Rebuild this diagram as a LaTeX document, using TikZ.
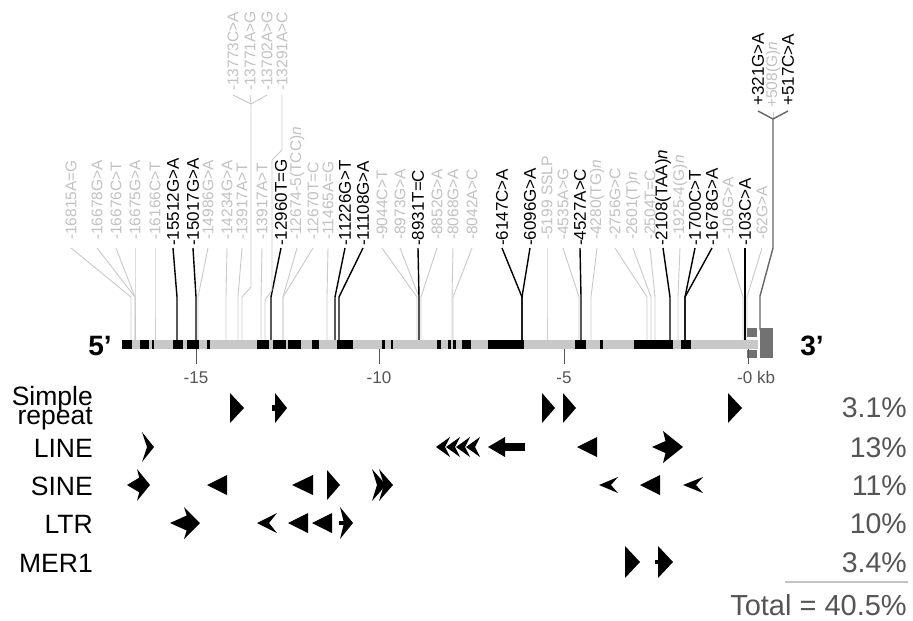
\documentclass[tikz,border=0pt]{standalone}
\usepackage{fontspec}
\setmainfont{Liberation Sans}
\definecolor{lgray}{HTML}{C2C2C2}
\definecolor{lcon}{HTML}{CACACA}
\definecolor{dgray}{HTML}{555555}
\definecolor{boxg}{HTML}{727272}
\definecolor{barg}{HTML}{C8C8C8}
\definecolor{forkg}{HTML}{666666}
\newcommand\snp[6]{\node[#5lab] (#1) at (#2,#3) {#6};
  \draw[#5con] (#1.west |- 0,248) -- (#4,297) -- (#4,340);}
\newcommand\rpR[4]{\fill[rep] (#1,{#2-#4}) -- ({#1+#3},#2) -- (#1,{#2+#4}) -- cycle;}
\newcommand\rpL[4]{\fill[rep] ({#1+#3},{#2-#4}) -- (#1,#2) -- ({#1+#3},{#2+#4}) -- cycle;}
\newcommand\rpRC[5]{\fill[rep] (#1,{#2-#4}) -- ({#1+#3},#2) -- (#1,{#2+#4}) -- ({#1+#5},#2) -- cycle;}
\newcommand\rpLC[5]{\fill[rep] ({#1+#3},{#2-#4}) -- (#1,#2) -- ({#1+#3},{#2+#4}) -- ({#1+#3-#5},#2) -- cycle;}
\begin{document}
\begin{tikzpicture}[x=1pt,y=-1pt,
  glab/.style={rotate=90,anchor=west,inner sep=0pt,text=lgray,font=\fontsize{15.5}{15.5}\selectfont},
  blab/.style={rotate=90,anchor=west,inner sep=0pt,text=black,font=\fontsize{17}{17}\selectfont},
  gcon/.style={draw=lcon,line width=0.9pt},
  bcon/.style={draw=black,line width=1.4pt},
  fcon/.style={draw=forkg,line width=1.4pt},
  rep/.style={fill=black},
  rowlab/.style={anchor=base east,inner sep=0pt,font=\fontsize{26.5}{26.5}\selectfont},
  pct/.style={anchor=base east,inner sep=0pt,text depth=0pt,text=dgray,font=\fontsize{28.5}{28.5}\selectfont},
  tick/.style={draw=dgray,line width=1pt},
  ticklab/.style={anchor=base,inner sep=0pt,text=dgray,font=\fontsize{17}{17}\selectfont},
  end/.style={inner sep=0pt,font=\fontsize{28}{28}\selectfont\bfseries}]
\useasboundingbox[fill=white] (0,0) rectangle (913,621);

% ---- lower row of variant labels with connectors
\snp{g1}{71}{240}{131}{g}{-16815A=G}
\snp{g2}{97}{240}{135}{g}{-16678G>A}
\snp{g3}{116}{240}{135}{g}{-16676C>T}
\snp{g4}{135}{240}{135}{g}{-16675G>A}
\snp{g5}{155}{240}{155}{g}{-16166C>T}
\snp{g6}{208}{240}{198}{g}{-14986G>A}
\snp{g7}{227}{240}{226}{g}{-14234G>A}
\snp{g8}{242}{240}{238}{g}{-13917A>T}
\snp{g9}{262}{240}{261}{g}{-13917A>T}
\snp{g10}{297}{240}{283}{g}{-12674-5(TCC)\textit{n}}
\snp{g11}{313}{240}{283}{g}{-12670T=C}
\snp{g12}{328}{240}{327}{g}{-11465A=G}
\snp{g13}{382}{240}{417}{g}{-9044C>T}
\snp{g14}{400}{240}{419}{g}{-8973G>A}
\snp{g15}{437}{240}{421}{g}{-8852G>A}
\snp{g16}{453}{240}{452}{g}{-8068G>A}
\snp{g17}{472}{240}{453}{g}{-8042A>C}
\snp{g18}{547}{240}{547}{g}{-5199 SSLP}
\snp{g19}{563}{240}{579}{g}{-4535A>G}
\snp{g20}{597}{240}{591}{g}{-4280(TG)\textit{n}}
\snp{g21}{615}{240}{647}{g}{-2756G>C}
\snp{g22}{633}{240}{651}{g}{-2601(T)\textit{n}}
\snp{g23}{650}{240}{655}{g}{-2504T=C}
\snp{g24}{680}{240}{678}{g}{-1925-4(G)\textit{n}}
\snp{g25}{728}{240}{743}{g}{-106G>A}
\snp{g26}{762}{240}{747}{g}{-62G>A}

\snp{b1}{173}{246}{177}{b}{-15512G>A}
\snp{b2}{193}{246}{196}{b}{-15017G>A}
\snp{b3}{281}{246}{271}{b}{-12960T=G}
\snp{b4}{345}{246}{335}{b}{-11226G>T}
\snp{b5}{363}{246}{339}{b}{-11108G>A}
\snp{b6}{418}{246}{419}{b}{-8931T=C}
\snp{b7}{502}{246}{522}{b}{-6147C>A}
\snp{b8}{530}{246}{522}{b}{-6096G>A}
\snp{b9}{580}{246}{581}{b}{-4527A>C}
\snp{b10}{663}{246}{670}{b}{-2108(TAA)\textit{n}}
\snp{b11}{695}{246}{685}{b}{-1700C>T}
\snp{b12}{712}{246}{685}{b}{-1678G>A}
\snp{b13}{745}{246}{745}{b}{-103C>A}

% ---- upper group around -13.7 kb
\node[glab] (t1) at (233,91) {-13773C>A};
\node[glab] (t2) at (250,91) {-13771A>G};
\node[glab] (t3) at (267,91) {-13702A>G};
\node[glab] (t4) at (282,91) {-13291A>C};
\coordinate (tf) at (251,104);
\draw[gcon] (t1.west |- 0,95) -- (tf);
\draw[gcon] (t2.west |- 0,95) -- (tf);
\draw[gcon] (t3.west |- 0,95) -- (tf);
\draw[gcon] (tf) -- (251,287) -- (242,297) -- (242,340);
\draw[gcon] (t4.west |- 0,95) -- (282,150) -- (272,160) -- (272,290) -- (265,300) -- (265,340);

% ---- 3' group
\node[blab] (u1) at (758,106) {+321G>A};
\node[glab] (u2) at (773,108) {+508(G)\textit{n}};
\node[blab] (u3) at (788,106) {+517C>A};
\coordinate (uf) at (773,119);
\draw[gcon] (u2.west |- 0,112) -- (uf);
\draw[fcon] (u1.west |- 0,111) -- (uf);
\draw[fcon] (u3.west |- 0,111) -- (uf);
\draw[fcon] (uf) -- (773,248) -- (760,296) -- (760,330);

% ---- gene bar
\fill[barg] (122,340) rectangle (758,349);
\foreach \a/\b in {122/132,140/149,152/154,173/183,187/199,207/210,257/269,273/286,288/301,312/319,337/353,382/385,391/393,437/441,448/451,453/456,462/471,488/524,575/586,600/603,634/673,681/691}
  \fill[black] (\a,340) rectangle (\b,349);
\fill[boxg] (747,328) rectangle (757,337);
\fill[boxg] (747,350) rectangle (757,358);
\fill[boxg] (760,328) rectangle (773,358);
\node[end] (p5) at (100,346) {5’};
\node[end] (p3) at (812,346) {3’};

% ---- scale
\foreach \x/\t in {196/-15,379/-10,564/-5}{
  \draw[tick] (\x,349) -- (\x,364);
  \node[ticklab] at (\x,383) {\t};
}
\draw[tick] (748,349) -- (748,364);
\node[ticklab,anchor=base west] (kb) at (737,383) {-0 kb};

% ---- row labels
\node[rowlab] (rs1) at (93,405) {Simple};
\node[rowlab] (rs2) at (93,424) {repeat};
\node[rowlab] (rl) at (93,457) {LINE};
\node[rowlab] (rsi) at (93,495) {SINE};
\node[rowlab] (rlt) at (93,533) {LTR};
\node[rowlab] (rm) at (93,572) {MER1};

% ---- percentages
\node[pct] (q1) at (907,417) {3.1\%};
\node[pct] (q2) at (907,457) {13\%};
\node[pct] (q3) at (907,495) {11\%};
\node[pct] (q4) at (907,533) {10\%};
\node[pct] (q5) at (907,572) {3.4\%};
\draw[draw=lgray,line width=1.2pt] (785,582) -- (908,582);
\node[pct,font=\fontsize{29}{29}\selectfont] (qt) at (907,615) {Total = 40.5\%};

% ---- Simple repeat row (y=408)
\rpR{230}{408}{14}{15}
\rpR{275}{408}{12}{15}
\fill[rep] (272,405) rectangle (276,411);
\rpR{542}{408}{13}{15}
\rpR{563}{408}{13}{15}
\rpR{728}{408}{14}{15}

% ---- LINE row (y=447)
\rpRC{142}{447}{12}{15}{5}
\rpLC{436}{447}{14}{10}{5}
\rpLC{446}{447}{14}{10}{5}
\rpLC{456}{447}{14}{10}{5}
\rpLC{466}{447}{14}{10}{5}
\rpL{488}{447}{17}{10}
\fill[rep] (504,443) rectangle (525,451);
\rpL{577}{447}{20}{10}
\rpL{652}{447}{18}{8}
\rpRC{663}{447}{20}{16}{4}

% ---- SINE row (y=485)
\rpL{127}{485}{15}{9}
\rpRC{137}{485}{13}{16}{4}
\rpL{207}{485}{20}{10}
\rpL{292}{485}{21}{10}
\rpR{327}{485}{13}{15}
\rpRC{372}{485}{14}{16}{5}
\rpRC{379}{485}{14}{16}{5}
\rpLC{599}{485}{19}{8}{7}
\rpL{640}{485}{20}{10}
\rpLC{683}{485}{20}{8}{7}

% ---- LTR row (y=523)
\rpL{170}{523}{20}{9}
\rpRC{184}{523}{16}{16}{5}
\rpLC{257}{523}{20}{10}{8}
\rpL{288}{523}{20}{10}
\rpL{312}{523}{20}{10}
\rpRC{340}{523}{13}{16}{4}
\fill[rep] (339,521) rectangle (345,525);

% ---- MER1 row (y=562)
\rpR{625}{562}{15}{16}
\rpR{658}{562}{15}{16}
\fill[rep] (655,560) rectangle (659,564);
\end{tikzpicture}
\end{document}
